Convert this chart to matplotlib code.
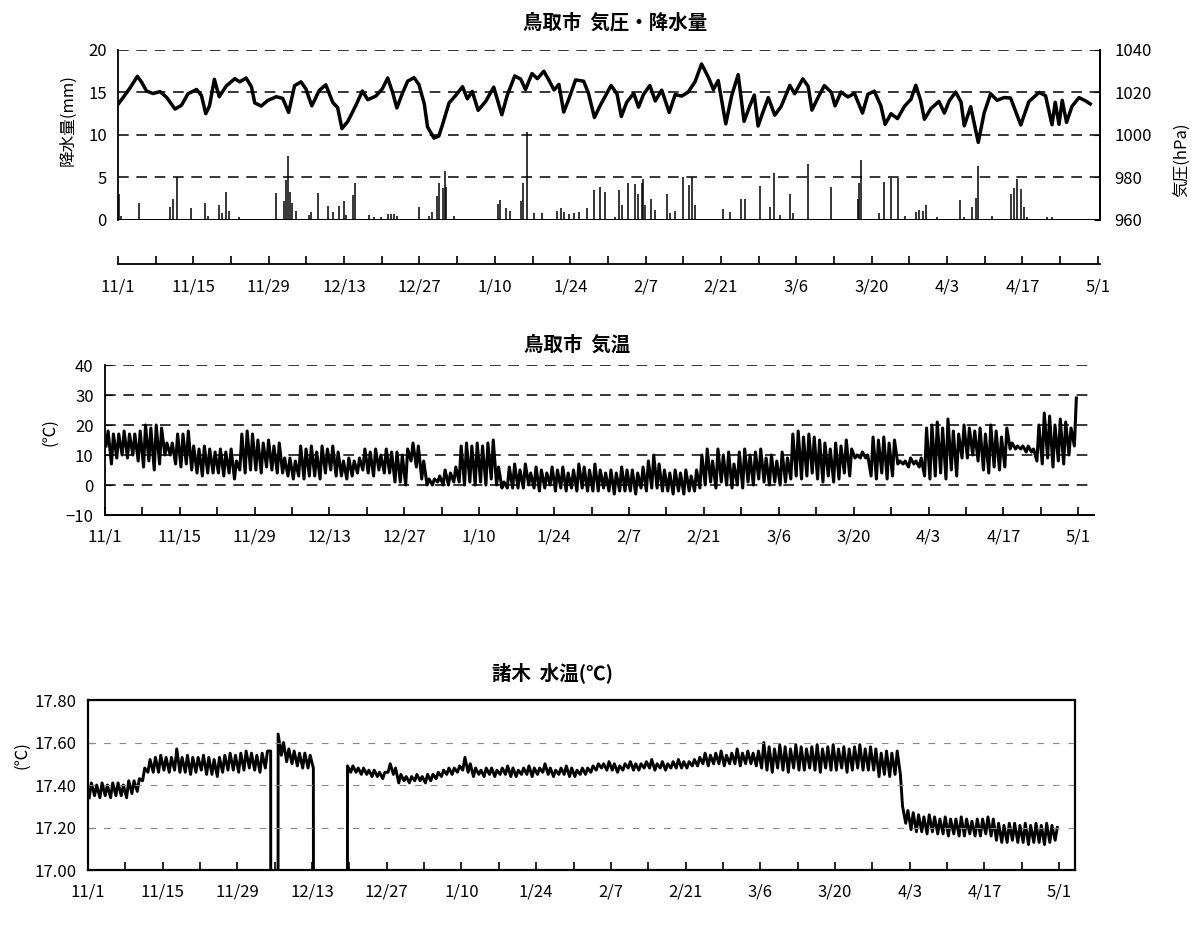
import numpy as np
import matplotlib.pyplot as plt

plt.rcParams['font.family'] = ['Noto Sans CJK JP', 'DejaVu Sans']
JP = ['Noto Sans CJK JP', 'DejaVu Sans']

# x axis: days since 11/1 (leap year, 182 days to 5/1)
date_labels = ['11/1', '11/15', '11/29', '12/13', '12/27', '1/10', '1/24',
               '2/7', '2/21', '3/6', '3/20', '4/3', '4/17', '5/1']

# Tottori pressure (hPa)
pressure_day = [0.0, 1.0, 2.2, 3.6, 4.4, 5.3, 6.5, 7.8, 9.0, 10.6, 11.8, 13.0, 14.6, 15.5,
                16.3, 17.0, 17.9, 18.8, 20.1, 21.7, 22.6, 23.8, 24.8, 25.4, 26.6, 27.8,
                29.4, 30.6, 31.7, 32.8, 34.0, 34.9, 36.0, 37.4, 38.6, 39.9, 40.8, 41.6,
                42.7, 44.2, 45.4, 46.4, 47.9, 49.1, 50.1, 51.0, 51.8, 52.8, 53.8, 55.0,
                55.9, 56.9, 57.5, 58.7, 59.6, 60.3, 61.5, 62.7, 64.0, 64.9, 65.8, 66.9,
                68.3, 69.8, 71.3, 72.3, 73.7, 74.8, 75.7, 76.9, 77.9, 79.1, 80.0, 81.0,
                81.9, 82.8, 83.7, 85.0, 86.5, 87.4, 88.5, 89.6, 90.5, 91.6, 92.7, 93.5,
                94.5, 95.8, 96.7, 97.6, 98.8, 99.8, 101.0, 102.4, 103.5, 104.7, 105.9,
                107.2, 108.4, 109.7, 110.6, 111.5, 112.9, 114.0, 115.2, 116.3, 117.4,
                118.2, 118.9, 119.8, 120.8, 122.0, 123.2, 124.8, 125.7, 127.2, 128.2,
                128.9, 130.0, 131.2, 132.5, 133.2, 134.3, 135.6, 136.8, 138.3, 139.3,
                140.5, 141.7, 142.5, 143.6, 144.8, 146.1, 147.3, 148.2, 149.1, 149.8,
                151.0, 152.5, 153.5, 154.4, 155.6, 156.6, 157.2, 158.4, 159.8, 160.9,
                162.1, 163.3, 164.6, 165.8, 167.7, 169.2, 171.1, 172.3, 173.5, 174.1,
                174.8, 175.4, 176.2, 177.2, 178.5, 179.7, 180.6]
pressure_hpa = [1014.4, 1017.8, 1022.0, 1027.6, 1024.8, 1020.7, 1019.5, 1020.4, 1017.8, 1012.2,
                1014.0, 1019.4, 1021.4, 1018.6, 1010.0, 1013.7, 1026.2, 1018.0, 1023.0, 1026.5,
                1025.0, 1026.8, 1022.6, 1015.1, 1013.6, 1016.2, 1018.0, 1017.2, 1010.6, 1023.2,
                1025.0, 1021.7, 1013.7, 1021.0, 1023.6, 1015.3, 1012.9, 1003.0, 1006.4, 1014.0,
                1020.7, 1016.6, 1018.3, 1021.7, 1026.8, 1020.1, 1012.7, 1019.4, 1025.3, 1027.0,
                1023.7, 1014.6, 1003.8, 998.5, 999.5, 1005.0, 1015.1, 1018.5, 1022.7, 1017.0,
                1020.5, 1011.6, 1015.8, 1022.5, 1009.5, 1018.6, 1027.8, 1026.3, 1021.4, 1028.9,
                1026.5, 1030.0, 1026.0, 1021.2, 1023.8, 1010.8, 1016.6, 1025.9, 1025.3, 1019.6,
                1008.2, 1014.0, 1018.2, 1023.3, 1019.3, 1008.7, 1015.4, 1019.6, 1013.1, 1019.0,
                1023.3, 1016.0, 1021.1, 1010.6, 1019.0, 1018.3, 1020.1, 1025.1, 1033.4, 1027.0,
                1021.4, 1025.6, 1005.2, 1018.5, 1028.4, 1006.4, 1013.9, 1018.8, 1004.2, 1010.7,
                1017.6, 1009.3, 1013.5, 1023.3, 1019.4, 1026.4, 1022.9, 1011.7, 1017.4, 1023.2,
                1020.1, 1013.7, 1020.2, 1017.9, 1019.6, 1010.3, 1019.2, 1020.6, 1013.8, 1005.0,
                1010.0, 1007.7, 1013.5, 1016.8, 1023.4, 1016.2, 1007.4, 1012.4, 1015.8, 1010.3,
                1016.0, 1020.2, 1015.5, 1004.3, 1013.3, 996.5, 1010.4, 1019.4, 1016.3, 1017.6,
                1017.4, 1004.7, 1015.7, 1020.0, 1018.5, 1004.8, 1015.4, 1005.0, 1016.3, 1005.9,
                1013.4, 1017.6, 1016.1, 1014.6]

# Tottori precipitation (mm), individual spikes
rain_day = [0.0, 0.2, 0.5, 3.9, 9.6, 10.2, 10.9, 13.6, 16.2, 16.7, 18.8, 19.4, 20.0, 20.7,
            22.5, 29.4, 30.9, 31.2, 31.5, 32.0, 32.3, 33.1, 35.5, 35.9, 37.1, 39.1, 39.9,
            41.0, 41.9, 42.3, 43.6, 44.1, 46.7, 47.6, 48.8, 50.1, 50.7, 51.3, 51.9, 55.9,
            57.8, 58.4, 59.3, 59.7, 60.3, 60.8, 61.0, 62.4, 70.5, 70.9, 72.0, 72.9, 74.8,
            75.3, 75.9, 77.2, 78.8, 81.6, 82.2, 82.8, 83.7, 84.7, 85.6, 87.1, 88.4, 89.6,
            90.4, 92.4, 93.1, 93.7, 94.7, 96.0, 96.6, 97.3, 97.6, 97.9, 99.0, 99.8, 101.9,
            102.6, 103.5, 105.0, 106.0, 106.7, 107.2, 112.4, 113.7, 115.7, 116.4, 119.2,
            121.1, 121.9, 122.9, 124.8, 125.4, 128.2, 132.5, 137.4, 137.7, 138.0, 141.4,
            142.2, 143.6, 144.8, 146.1, 148.2, 148.8, 149.5, 150.1, 152.2, 156.4, 157.2,
            158.7, 159.3, 159.8, 162.4, 165.8, 166.4, 167.0, 167.7, 168.3, 168.9, 172.6,
            173.5]
rain_mm = [0.6, 3.0, 0.5, 2.0, 1.5, 2.5, 5.1, 1.4, 2.0, 0.5, 1.8, 0.8, 3.3, 1.0,
           0.4, 3.2, 2.2, 4.7, 7.5, 3.3, 2.0, 1.0, 0.6, 0.9, 3.2, 1.7, 0.9,
           1.6, 2.2, 0.6, 2.9, 4.3, 0.6, 0.4, 0.4, 0.7, 0.7, 0.7, 0.5, 1.5,
           0.5, 0.9, 2.8, 4.4, 3.8, 5.8, 3.9, 0.5, 1.9, 2.4, 1.4, 1.0, 2.2,
           4.4, 10.4, 0.8, 0.8, 1.0, 1.4, 0.9, 0.7, 0.8, 0.9, 1.4, 3.5, 3.9,
           3.3, 0.4, 3.5, 1.8, 4.4, 4.2, 3.0, 4.4, 4.8, 1.8, 2.5, 1.2, 3.1,
           0.8, 1.0, 5.0, 4.1, 5.1, 1.8, 1.3, 0.9, 2.5, 2.5, 4.0,
           1.5, 5.5, 0.6, 3.0, 0.8, 6.6, 3.9, 2.5, 4.3, 7.0, 0.8,
           4.5, 4.9, 4.9, 0.5, 0.9, 1.2, 1.0, 1.8, 0.4, 2.4, 0.4,
           1.5, 2.6, 6.4, 0.5, 3.0, 3.8, 4.8, 3.6, 1.5, 0.4, 0.4,
           0.4]

# Tottori air temperature (deg C), daily max / min, one row per week
temp_max = [18, 17, 17, 18, 17, 17, 18,
            20, 19, 20, 19, 14, 14, 17,
            17, 18, 13, 12, 13, 12, 11,
            12, 11, 12, 8, 17, 18, 17,
            15, 14, 15, 13, 14, 9, 9,
            8, 13, 12, 13, 11, 13, 12,
            13, 11, 8, 9, 8, 9, 12,
            11, 12, 10, 12, 11, 11, 10,
            12, 14, 13, 8, 2, 2, 3,
            5, 4, 6, 13, 14, 13, 14,
            13, 14, 15, 6, 1, 6, 7,
            5, 7, 4, 6, 5, 4, 6,
            5, 6, 4, 5, 7, 6, 5,
            7, 5, 4, 5, 4, 6, 5,
            5, 4, 6, 8, 10, 7, 5,
            4, 5, 4, 5, 3, 5, 10,
            12, 8, 12, 10, 11, 7, 11,
            12, 10, 11, 12, 9, 10, 8,
            11, 9, 17, 18, 16, 17, 16,
            15, 14, 12, 14, 13, 15, 12,
            10, 11, 10, 16, 15, 16, 14,
            15, 8, 8, 9, 8, 9, 19,
            20, 21, 19, 22, 18, 17, 20,
            19, 18, 19, 17, 20, 18, 16,
            19, 14, 13, 13, 13, 12, 20,
            24, 23, 20, 22, 21, 19, 29]
temp_min = [13, 7, 9, 10, 9, 10, 8,
            6, 8, 5, 7, 10, 10, 7,
            6, 7, 5, 4, 3, 4, 4,
            4, 3, 4, 2, 5, 4, 5,
            5, 4, 6, 5, 4, 4, 3,
            2, 3, 2, 3, 3, 2, 4,
            5, 3, 3, 2, 3, 4, 5,
            4, 3, 5, 4, 4, 1, 1,
            0, 8, 6, 2, 0, 0, 1,
            0, 0, 1, 1, 0, 1, 0,
            1, 0, 2, 0, -1, -1, -1,
            -1, -1, 0, -1, -2, -1, 0,
            -2, -1, -2, -1, -2, -1, -2,
            -2, -2, -1, -2, -3, -2, -2,
            -2, -3, -1, -2, -1, -1, -2,
            -2, -3, -2, -3, -2, -2, -1,
            0, 1, -1, 1, 0, -1, 0,
            -1, 1, 0, 2, 1, 0, 1,
            0, 1, 2, 3, 2, 3, 4,
            2, 1, 3, 1, 2, 4, 3,
            9, 9, 9, 3, 2, 4, 2,
            3, 7, 7, 6, 7, 6, 3,
            2, 3, 4, 2, 5, 3, 9,
            9, 10, 8, 5, 4, 6, 5,
            6, 12, 12, 12, 11, 11, 8,
            7, 9, 6, 8, 7, 10, 13]

# Moroki water temperature (deg C), morning / afternoon reading per day; 0.0 = logger dropout
water_am = [17.34, 17.35, 17.34, 17.35, 17.34, 17.35, 17.35, 17.34, 17.36, 17.37,
            17.42, 17.46,
            17.46, 17.46, 17.47, 17.46, 17.47, 17.46, 17.46, 17.45, 17.46, 17.47, 17.45,
            17.45, 17.44, 17.46, 17.47, 17.47, 17.46, 17.47, 17.48, 17.47, 17.46, 17.48,
            17.56, 0.0,
            17.54, 17.51, 17.50, 17.49, 17.48, 17.48,
            17.48, 0.0, 0.0, 0.0, 0.0, 0.0, 0.0,
            17.46, 17.46, 17.45, 17.45, 17.44, 17.44, 17.43,
            17.46, 17.45,
            17.41, 17.42, 17.41, 17.42, 17.42, 17.41, 17.42,
            17.43, 17.44, 17.45, 17.45, 17.46,
            17.47, 17.46,
            17.44, 17.45, 17.44, 17.45, 17.44, 17.45, 17.45, 17.44, 17.44, 17.45, 17.45,
            17.44, 17.45, 17.46, 17.45, 17.44, 17.45, 17.45, 17.44, 17.44, 17.45, 17.45, 17.46,
            17.47, 17.48, 17.47, 17.47, 17.46, 17.47, 17.48, 17.47, 17.47, 17.48,
            17.48, 17.47, 17.48, 17.47, 17.48, 17.48, 17.48, 17.48, 17.49, 17.49,
            17.50, 17.49, 17.50, 17.50, 17.49, 17.50, 17.50, 17.49, 17.50, 17.50, 17.49,
            17.48, 17.47, 17.46, 17.48, 17.47, 17.46, 17.48, 17.47, 17.47, 17.48, 17.47,
            17.46, 17.48, 17.47, 17.47, 17.48, 17.46, 17.47, 17.48, 17.47, 17.47, 17.47,
            17.44, 17.45, 17.44, 17.45,
            17.45, 17.22,
            17.19, 17.18, 17.18, 17.17, 17.18, 17.17, 17.17, 17.16,
            17.17, 17.16, 17.16, 17.17, 17.16, 17.16, 17.17, 17.16,
            17.14, 17.13, 17.13, 17.14, 17.13, 17.13, 17.12, 17.13, 17.13, 17.12, 17.13, 17.14]
water_pm = [17.41, 17.40, 17.41, 17.40, 17.41, 17.41, 17.40, 17.42, 17.42, 17.43,
            17.48, 17.52,
            17.53, 17.54, 17.53, 17.53, 17.57, 17.53, 17.54, 17.53, 17.53, 17.54, 17.53,
            17.52, 17.53, 17.54, 17.55, 17.54, 17.55, 17.56, 17.55, 17.54, 17.55, 17.56,
            0.0, 17.64,
            17.60, 17.57, 17.56, 17.55, 17.55, 17.54,
            0.0, 0.0, 0.0, 0.0, 0.0, 0.0, 17.49,
            17.49, 17.48, 17.48, 17.47, 17.47, 17.46, 17.46,
            17.50, 17.48,
            17.45, 17.44, 17.44, 17.45, 17.44, 17.45, 17.45,
            17.46, 17.47, 17.48, 17.48, 17.49,
            17.53, 17.50,
            17.48, 17.47, 17.48, 17.48, 17.47, 17.48, 17.49, 17.48, 17.47, 17.48, 17.49,
            17.48, 17.48, 17.50, 17.48, 17.47, 17.48, 17.49, 17.48, 17.47, 17.48, 17.48, 17.49,
            17.50, 17.50, 17.51, 17.50, 17.49, 17.50, 17.51, 17.50, 17.50, 17.51,
            17.52, 17.50, 17.51, 17.50, 17.51, 17.52, 17.51, 17.51, 17.52, 17.53,
            17.55, 17.54, 17.55, 17.56, 17.54, 17.55, 17.57, 17.55, 17.56, 17.55, 17.56,
            17.60, 17.58, 17.57, 17.59, 17.58, 17.57, 17.59, 17.58, 17.57, 17.58, 17.59,
            17.57, 17.58, 17.59, 17.57, 17.58, 17.57, 17.58, 17.59, 17.57, 17.58, 17.57,
            17.55, 17.56, 17.55, 17.56,
            17.30, 17.28,
            17.27, 17.26, 17.25, 17.26, 17.25, 17.24, 17.25, 17.24,
            17.24, 17.25, 17.24, 17.23, 17.24, 17.24, 17.25, 17.24,
            17.22, 17.21, 17.22, 17.22, 17.21, 17.22, 17.21, 17.22, 17.21, 17.22, 17.21, 17.20]


def twice_daily(first, second, t1, t2):
    days = np.arange(len(first))
    x = np.column_stack([days + t1, days + t2]).ravel()
    y = np.column_stack([first, second]).ravel()
    return x, y


def date_axis(ax, xmax):
    ax.set_xlim(0, xmax)
    ax.set_xticks(np.arange(0, 183, 14))
    ax.set_xticklabels(date_labels, fontsize=12)
    ax.set_xticks(np.arange(7, 183, 14), minor=True)
    ax.tick_params(axis='x', which='both', direction='in', length=6, width=1.2, pad=10)


fig = plt.figure(figsize=(12.04, 9.34), dpi=100)
dash = dict(color='black', lw=1.1, dashes=(7, 5))

# ---- panel 1: pressure + precipitation
ax1 = fig.add_axes([0.098, 0.7645, 0.816, 0.182])
ax1.vlines(rain_day, 0, rain_mm, color='black', lw=1.1)
ax1.set_ylim(0, 20)
ax1.set_yticks([0, 5, 10, 15, 20])
for v in [5, 10, 15, 20]:
    ax1.axhline(v, **dash)
ax1.axhline(0, color='black', lw=1.4)
ax1.spines['top'].set_visible(False)
ax1.spines['bottom'].set_position(('outward', 32))
ax1.spines['bottom'].set_linewidth(1.3)
ax1.spines['left'].set_linewidth(1.3)
ax1.spines['right'].set_linewidth(1.3)
ax1.tick_params(axis='y', direction='in', length=0, labelsize=12, pad=8)
date_axis(ax1, 182.5)

ax1r = ax1.twinx()
ax1r.plot(pressure_day, pressure_hpa, color='black', lw=2.5)
ax1r.set_ylim(960, 1040)
ax1r.set_yticks([960, 980, 1000, 1020, 1040])
ax1r.tick_params(axis='y', direction='in', length=4, labelsize=12, pad=10)
for s in ['top', 'bottom', 'left']:
    ax1r.spines[s].set_visible(False)
ax1r.spines['right'].set_linewidth(1.3)

fig.text(0.511, 0.976, '鳥取市  気圧・降水量', family=JP, fontsize=14,
         weight='bold', ha='center', va='center')
fig.text(0.0565, 0.8715, '降水量(mm)', family=JP, fontsize=12, rotation=90,
         ha='center', va='center')
fig.text(0.982, 0.829, '気圧(hPa)', family=JP, fontsize=12, rotation=90,
         ha='center', va='center')

# ---- panel 2: air temperature
ax2 = fig.add_axes([0.087, 0.4486, 0.822, 0.1606])
tx, ty = twice_daily(temp_min, temp_max, 0.25, 0.62)
ax2.plot(tx, ty, color='black', lw=2.2)
ax2.set_ylim(-10, 40)
ax2.set_yticks(np.arange(-10, 41, 10))
for v in [0, 10, 20, 30, 40]:
    ax2.axhline(v, **dash)
for s in ['top', 'right']:
    ax2.spines[s].set_visible(False)
ax2.spines['bottom'].set_linewidth(1.4)
ax2.spines['left'].set_linewidth(1.3)
ax2.tick_params(axis='y', direction='in', length=5, labelsize=12, pad=8)
date_axis(ax2, 185)
fig.text(0.479, 0.631, '鳥取市  気温', family=JP, fontsize=14, weight='bold',
         ha='center', va='center')
fig.text(0.0415, 0.5375, '(℃)', family=JP, fontsize=12, rotation=90,
         ha='center', va='center')

# ---- panel 3: water temperature
ax3 = fig.add_axes([0.073, 0.0685, 0.82, 0.182])
wx, wy = twice_daily(water_am, water_pm, 0.25, 0.65)
ax3.plot(wx, wy, color='black', lw=2.1)
ax3.set_ylim(17.0, 17.8)
ax3.set_yticks([17.0, 17.2, 17.4, 17.6, 17.8])
ax3.set_yticklabels(['17.00', '17.20', '17.40', '17.60', '17.80'])
for v in [17.2, 17.4, 17.6]:
    ax3.axhline(v, color='#8a8a8a', lw=0.8, dashes=(6, 8))
for s in ax3.spines.values():
    s.set_linewidth(1.6)
ax3.tick_params(axis='y', direction='in', length=5, labelsize=12, pad=8)
date_axis(ax3, 185)
fig.text(0.459, 0.280, '諸木  水温(℃)', family=JP, fontsize=14, weight='bold',
         ha='center', va='center')
fig.text(0.018, 0.1916, '(℃)', family=JP, fontsize=12, rotation=90,
         ha='center', va='center')

fig.savefig('out.png', dpi=100)
